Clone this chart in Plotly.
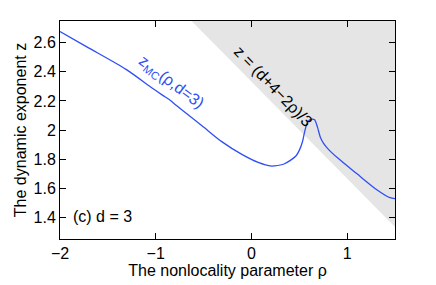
import plotly.graph_objects as go

# Monte Carlo curve z_MC(rho, d=3)
rho = [-2.0, -1.72, -1.31, -1.03, -0.93, -0.845, -0.79, -0.52, -0.31, -0.10, 0.07, 0.21, 0.24, 0.34, 0.465,
       0.50, 0.534, 0.55, 0.575, 0.60, 0.63, 0.66, 0.69, 0.72, 0.752, 0.80, 0.896, 1.10, 1.31, 1.448, 1.5]
z_mc = [2.678, 2.572, 2.417, 2.285, 2.240, 2.203, 2.172, 2.031, 1.920, 1.832, 1.777, 1.752, 1.753, 1.766, 1.821,
        1.86, 1.921, 1.97, 2.035, 2.065, 2.075, 2.07, 2.02, 1.95, 1.91, 1.87, 1.81, 1.70, 1.589, 1.534, 1.528]

d = 3
rho_bound = [-2.0, 1.5]
z_top = 3.0  # upper limit for the shaded region (clipped by axis)

x_ticks = [-2, -1, 0, 1]
x_labels = ["\u22122", "\u22121", "0", "1"]
y_ticks = [1.4, 1.6, 1.8, 2.0, 2.2, 2.4, 2.6]
y_labels = ["1.4", "1.6", "1.8", "2", "2.2", "2.4", "2.6"]

zb = [(d + 4 - 2 * r) / 3 for r in rho_bound]

fig = go.Figure()
fig.add_trace(go.Scatter(
    x=[rho_bound[0], rho_bound[1], rho_bound[1], rho_bound[0]],
    y=[zb[0], zb[1], z_top + 1, z_top + 1],
    fill="toself", fillcolor="#e5e5e5", mode="none", hoverinfo="skip", showlegend=False))
fig.add_trace(go.Scatter(x=rho, y=z_mc, mode="lines", line=dict(color="#2f4ff5", width=1.3),
                         line_shape="spline", line_smoothing=0.8, showlegend=False))

font = "Liberation Sans, Arial, sans-serif"
fig.update_layout(
    width=428, height=277,
    margin=dict(l=49, r=41, t=13, b=38),
    paper_bgcolor="white", plot_bgcolor="white",
    font=dict(family=font, size=16, color="black"),
    xaxis=dict(range=[-2, 1.5], tickvals=x_ticks, ticktext=x_labels, ticks="inside", ticklen=6,
               tickcolor="black", showline=True, linecolor="black", linewidth=1, mirror="ticks",
               showgrid=False, zeroline=False, tickfont=dict(size=16),
               title=dict(text="The nonlocality parameter \u03c1", standoff=0, font=dict(size=16))),
    yaxis=dict(range=[1.25, 2.75], tickvals=y_ticks, ticktext=y_labels, ticks="inside", ticklen=6,
               tickcolor="black", showline=True, linecolor="black", linewidth=1, mirror="ticks",
               showgrid=False, zeroline=False, tickfont=dict(size=16),
               title=dict(text="The dynamic exponent z", standoff=2, font=dict(size=16))),
)
fig.add_annotation(x=-0.84, y=2.33, xref="x", yref="y", text="z<sub>MC</sub>(\u03c1,d=3)", showarrow=False,
                   textangle=37, font=dict(color="#2f4ff5", size=16))
fig.add_annotation(x=0.23, y=2.30, xref="x", yref="y", text="z = (d+4\u22122\u03c1)/3", showarrow=False,
                   textangle=46, font=dict(color="black", size=16))
fig.add_annotation(x=-1.89, y=1.405, xref="x", yref="y", text="(c) d = 3", showarrow=False, xanchor="left",
                   font=dict(color="black", size=16))

fig.write_html("out.html")
